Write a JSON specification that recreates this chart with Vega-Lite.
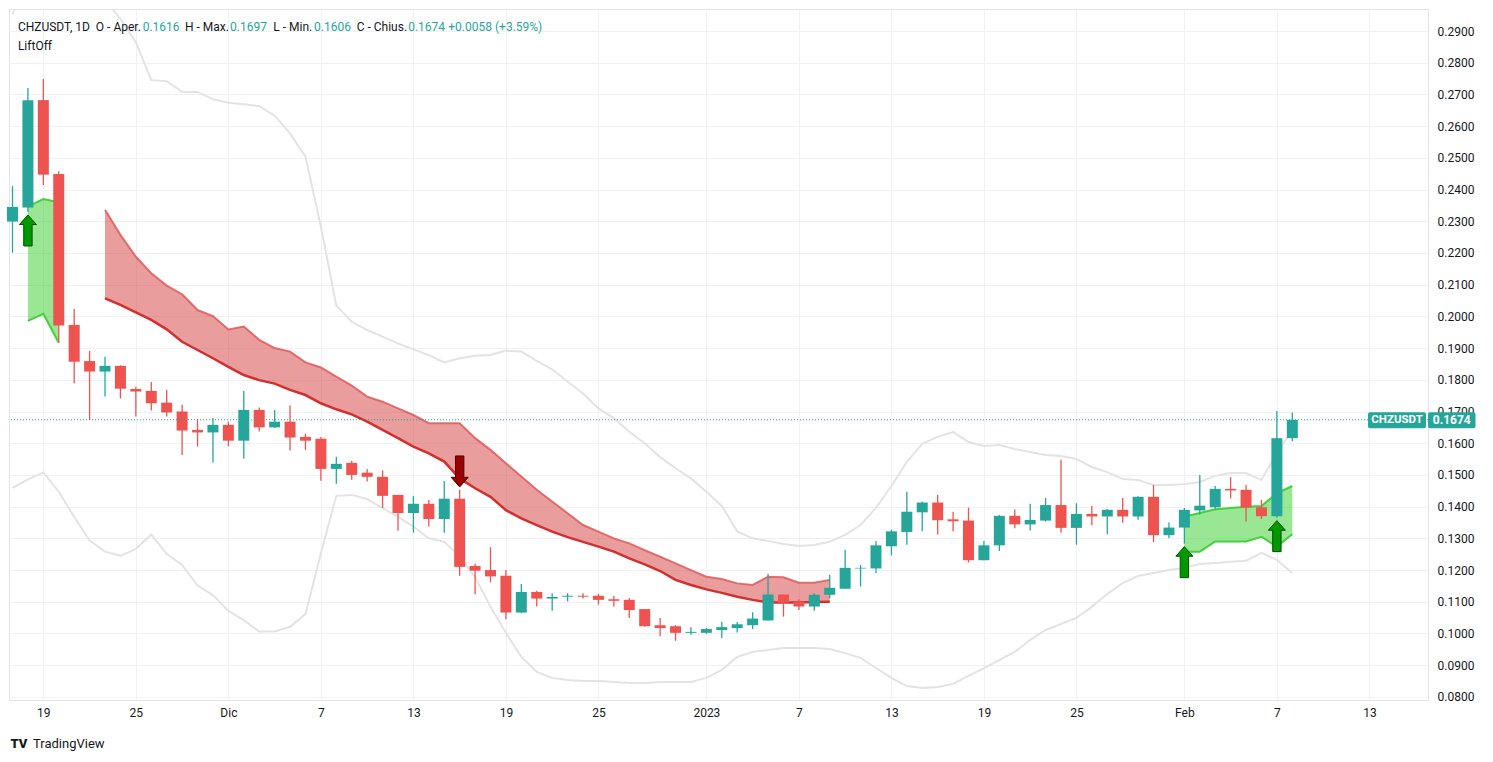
{
"$schema":"https://vega.github.io/schema/vega-lite/v6.json",
"width":1419,"height":691,
"autosize":{"type":"none"},
"padding":{"left":9,"top":9,"right":65,"bottom":62},
"background":"#ffffff",
"config":{"view":{"stroke":"#e0e3eb","strokeWidth":1},"font":"Roboto","text":{"font":"Roboto"}},
"datasets":{
"one":[{}],
"ohlc":[
{"d":"2022-11-17","o":0.2299,"h":0.2411,"l":0.2201,"c":0.2345,"bu":0.2954,"bl":0.1459},
{"d":"2022-11-18","o":0.2343,"h":0.2720,"l":0.2330,"c":0.2682,"bu":0.305,"bl":0.1486},
{"d":"2022-11-19","o":0.2682,"h":0.2749,"l":0.2414,"c":0.2447,"bu":0.315,"bl":0.1508},
{"d":"2022-11-20","o":0.2449,"h":0.2458,"l":0.1917,"c":0.1971,"bu":0.318,"bl":0.1447},
{"d":"2022-11-21","o":0.1973,"h":0.2023,"l":0.1789,"c":0.1857,"bu":0.316,"bl":0.1368},
{"d":"2022-11-22","o":0.1859,"h":0.1891,"l":0.1673,"c":0.1826,"bu":0.310,"bl":0.1293},
{"d":"2022-11-23","o":0.1826,"h":0.1873,"l":0.1747,"c":0.1844,"bu":0.2998,"bl":0.1258},
{"d":"2022-11-24","o":0.1844,"h":0.1846,"l":0.1741,"c":0.1772,"bu":0.2938,"bl":0.1245},
{"d":"2022-11-25","o":0.1771,"h":0.1778,"l":0.1684,"c":0.1763,"bu":0.2865,"bl":0.1267},
{"d":"2022-11-26","o":0.1765,"h":0.1793,"l":0.1703,"c":0.1726,"bu":0.2745,"bl":0.1312},
{"d":"2022-11-27","o":0.1728,"h":0.1768,"l":0.1684,"c":0.1697,"bu":0.2742,"bl":0.1251},
{"d":"2022-11-28","o":0.1700,"h":0.1721,"l":0.1563,"c":0.1640,"bu":0.2708,"bl":0.1216},
{"d":"2022-11-29","o":0.1642,"h":0.1677,"l":0.1590,"c":0.1634,"bu":0.2708,"bl":0.1151},
{"d":"2022-11-30","o":0.1634,"h":0.1679,"l":0.1539,"c":0.1658,"bu":0.2685,"bl":0.1121},
{"d":"2022-12-01","o":0.1658,"h":0.1668,"l":0.1590,"c":0.1608,"bu":0.2674,"bl":0.1071},
{"d":"2022-12-02","o":0.1608,"h":0.1765,"l":0.1551,"c":0.1705,"bu":0.2669,"bl":0.1042},
{"d":"2022-12-03","o":0.1705,"h":0.1713,"l":0.1637,"c":0.1650,"bu":0.2663,"bl":0.1006},
{"d":"2022-12-04","o":0.1650,"h":0.1705,"l":0.1648,"c":0.1668,"bu":0.2633,"bl":0.1006},
{"d":"2022-12-05","o":0.1668,"h":0.1719,"l":0.1577,"c":0.1618,"bu":0.2577,"bl":0.1021},
{"d":"2022-12-06","o":0.1620,"h":0.1630,"l":0.1579,"c":0.1608,"bu":0.2504,"bl":0.1061},
{"d":"2022-12-07","o":0.1614,"h":0.1620,"l":0.1482,"c":0.1519,"bu":0.2283,"bl":0.1253},
{"d":"2022-12-08","o":0.1519,"h":0.1557,"l":0.1472,"c":0.1535,"bu":0.2034,"bl":0.1434},
{"d":"2022-12-09","o":0.1538,"h":0.1545,"l":0.1485,"c":0.1500,"bu":0.1983,"bl":0.1437},
{"d":"2022-12-10","o":0.1507,"h":0.1519,"l":0.1479,"c":0.1494,"bu":0.1957,"bl":0.1424},
{"d":"2022-12-11","o":0.1494,"h":0.1514,"l":0.1396,"c":0.1434,"bu":0.1936,"bl":0.1395},
{"d":"2022-12-12","o":0.1437,"h":0.1437,"l":0.1324,"c":0.1380,"bu":0.1915,"bl":0.1368},
{"d":"2022-12-13","o":0.1380,"h":0.1434,"l":0.1318,"c":0.1409,"bu":0.1896,"bl":0.1337},
{"d":"2022-12-14","o":0.1409,"h":0.1421,"l":0.1337,"c":0.1361,"bu":0.1878,"bl":0.1300},
{"d":"2022-12-15","o":0.1361,"h":0.1481,"l":0.1318,"c":0.1425,"bu":0.1855,"bl":0.1289},
{"d":"2022-12-16","o":0.1425,"h":0.1453,"l":0.1182,"c":0.1210,"bu":0.1868,"bl":0.1244},
{"d":"2022-12-17","o":0.1213,"h":0.1220,"l":0.1124,"c":0.1198,"bu":0.1876,"bl":0.1178},
{"d":"2022-12-18","o":0.1200,"h":0.1272,"l":0.1161,"c":0.1180,"bu":0.1878,"bl":0.1084},
{"d":"2022-12-19","o":0.1182,"h":0.1200,"l":0.1045,"c":0.1066,"bu":0.1892,"bl":0.1002},
{"d":"2022-12-20","o":0.1066,"h":0.1156,"l":0.1064,"c":0.1131,"bu":0.1889,"bl":0.0926},
{"d":"2022-12-21","o":0.1131,"h":0.1135,"l":0.1085,"c":0.1110,"bu":0.1860,"bl":0.0879},
{"d":"2022-12-22","o":0.1110,"h":0.1127,"l":0.1072,"c":0.1115,"bu":0.1833,"bl":0.0860},
{"d":"2022-12-23","o":0.1116,"h":0.1127,"l":0.1101,"c":0.1119,"bu":0.1794,"bl":0.0853},
{"d":"2022-12-24","o":0.1119,"h":0.1127,"l":0.1110,"c":0.1116,"bu":0.1757,"bl":0.0850},
{"d":"2022-12-25","o":0.1119,"h":0.1125,"l":0.1091,"c":0.1106,"bu":0.1710,"bl":0.0850},
{"d":"2022-12-26","o":0.1108,"h":0.1118,"l":0.1085,"c":0.1103,"bu":0.1679,"bl":0.0847},
{"d":"2022-12-27","o":0.1106,"h":0.1112,"l":0.1049,"c":0.1074,"bu":0.1636,"bl":0.0844},
{"d":"2022-12-28","o":0.1077,"h":0.1077,"l":0.1021,"c":0.1023,"bu":0.1600,"bl":0.0844},
{"d":"2022-12-29","o":0.1026,"h":0.1049,"l":0.0991,"c":0.1017,"bu":0.1556,"bl":0.0847},
{"d":"2022-12-30","o":0.1023,"h":0.1026,"l":0.0977,"c":0.1002,"bu":0.1521,"bl":0.0847},
{"d":"2022-12-31","o":0.1002,"h":0.1020,"l":0.0996,"c":0.1005,"bu":0.1489,"bl":0.0847},
{"d":"2023-01-01","o":0.1002,"h":0.1017,"l":0.0999,"c":0.1014,"bu":0.1447,"bl":0.0860},
{"d":"2023-01-02","o":0.1011,"h":0.1037,"l":0.0986,"c":0.1020,"bu":0.1402,"bl":0.0885},
{"d":"2023-01-03","o":0.1017,"h":0.1036,"l":0.1003,"c":0.1029,"bu":0.1322,"bl":0.0926},
{"d":"2023-01-04","o":0.1026,"h":0.1067,"l":0.1014,"c":0.1047,"bu":0.1300,"bl":0.0942},
{"d":"2023-01-05","o":0.1041,"h":0.1188,"l":0.1041,"c":0.1123,"bu":0.1292,"bl":0.0948},
{"d":"2023-01-06","o":0.1123,"h":0.1123,"l":0.1053,"c":0.1097,"bu":0.1282,"bl":0.0954},
{"d":"2023-01-07","o":0.1100,"h":0.1108,"l":0.1074,"c":0.1085,"bu":0.1276,"bl":0.0954},
{"d":"2023-01-08","o":0.1085,"h":0.1127,"l":0.1072,"c":0.1122,"bu":0.1279,"bl":0.0954},
{"d":"2023-01-09","o":0.1122,"h":0.1185,"l":0.1110,"c":0.1144,"bu":0.1289,"bl":0.0951},
{"d":"2023-01-10","o":0.1141,"h":0.1264,"l":0.1141,"c":0.1207,"bu":0.1311,"bl":0.0938},
{"d":"2023-01-11","o":0.1205,"h":0.1216,"l":0.1148,"c":0.1207,"bu":0.1342,"bl":0.0923},
{"d":"2023-01-12","o":0.1205,"h":0.1292,"l":0.1191,"c":0.1278,"bu":0.1396,"bl":0.0891},
{"d":"2023-01-13","o":0.1275,"h":0.1327,"l":0.1246,"c":0.1322,"bu":0.1465,"bl":0.0860},
{"d":"2023-01-14","o":0.1320,"h":0.1447,"l":0.1280,"c":0.1384,"bu":0.1541,"bl":0.0834},
{"d":"2023-01-15","o":0.1382,"h":0.1416,"l":0.1322,"c":0.1413,"bu":0.1598,"bl":0.0828},
{"d":"2023-01-16","o":0.1413,"h":0.1437,"l":0.1312,"c":0.1357,"bu":0.1620,"bl":0.0831},
{"d":"2023-01-17","o":0.1360,"h":0.1384,"l":0.1322,"c":0.1354,"bu":0.1635,"bl":0.0841},
{"d":"2023-01-18","o":0.1356,"h":0.1397,"l":0.1224,"c":0.1231,"bu":0.1604,"bl":0.0866},
{"d":"2023-01-19","o":0.1231,"h":0.1292,"l":0.1231,"c":0.1278,"bu":0.1591,"bl":0.0891},
{"d":"2023-01-20","o":0.1278,"h":0.1374,"l":0.1260,"c":0.1371,"bu":0.1594,"bl":0.0916},
{"d":"2023-01-21","o":0.1371,"h":0.1391,"l":0.1332,"c":0.1344,"bu":0.1582,"bl":0.0942},
{"d":"2023-01-22","o":0.1344,"h":0.1409,"l":0.1325,"c":0.1358,"bu":0.1572,"bl":0.0980},
{"d":"2023-01-23","o":0.1356,"h":0.1427,"l":0.1353,"c":0.1405,"bu":0.1563,"bl":0.1011},
{"d":"2023-01-24","o":0.1405,"h":0.1548,"l":0.1318,"c":0.1333,"bu":0.1560,"bl":0.1030},
{"d":"2023-01-25","o":0.1333,"h":0.1411,"l":0.1280,"c":0.1377,"bu":0.1550,"bl":0.1049},
{"d":"2023-01-26","o":0.1377,"h":0.1402,"l":0.1341,"c":0.1369,"bu":0.1525,"bl":0.1084},
{"d":"2023-01-27","o":0.1369,"h":0.1392,"l":0.1313,"c":0.1390,"bu":0.1509,"bl":0.1125},
{"d":"2023-01-28","o":0.1390,"h":0.1427,"l":0.1349,"c":0.1369,"bu":0.1487,"bl":0.1159},
{"d":"2023-01-29","o":0.1369,"h":0.1433,"l":0.1359,"c":0.1431,"bu":0.1484,"bl":0.1181},
{"d":"2023-01-30","o":0.1431,"h":0.1468,"l":0.1288,"c":0.1310,"bu":0.1468,"bl":0.1191},
{"d":"2023-01-31","o":0.1310,"h":0.1350,"l":0.1300,"c":0.1334,"bu":0.1468,"bl":0.1200},
{"d":"2023-02-01","o":0.1334,"h":0.1396,"l":0.1283,"c":0.1390,"bu":0.1471,"bl":0.1207},
{"d":"2023-02-02","o":0.1388,"h":0.1500,"l":0.1375,"c":0.1403,"bu":0.1478,"bl":0.1219},
{"d":"2023-02-03","o":0.1398,"h":0.1465,"l":0.1392,"c":0.1456,"bu":0.1497,"bl":0.1222},
{"d":"2023-02-04","o":0.1456,"h":0.1493,"l":0.1426,"c":0.1451,"bu":0.1506,"bl":0.1226},
{"d":"2023-02-05","o":0.1453,"h":0.1468,"l":0.1353,"c":0.1397,"bu":0.1506,"bl":0.1229},
{"d":"2023-02-06","o":0.1398,"h":0.1421,"l":0.1361,"c":0.1370,"bu":0.1484,"bl":0.1254},
{"d":"2023-02-07","o":0.1370,"h":0.1702,"l":0.1365,"c":0.1616,"bu":0.1569,"bl":0.1232},
{"d":"2023-02-08","o":0.1616,"h":0.1697,"l":0.1606,"c":0.1674,"bu":0.1642,"bl":0.1191}
],
"red":[
{"d":"2022-11-23","top":0.2336,"bot":0.2057},
{"d":"2022-11-24","top":0.2257,"bot":0.2036},
{"d":"2022-11-25","top":0.2188,"bot":0.2013},
{"d":"2022-11-26","top":0.2136,"bot":0.1989},
{"d":"2022-11-27","top":0.2097,"bot":0.1959},
{"d":"2022-11-28","top":0.2070,"bot":0.1920},
{"d":"2022-11-29","top":0.2020,"bot":0.1894},
{"d":"2022-11-30","top":0.2001,"bot":0.1868},
{"d":"2022-12-01","top":0.1959,"bot":0.1841},
{"d":"2022-12-02","top":0.1968,"bot":0.1815},
{"d":"2022-12-03","top":0.1926,"bot":0.1799},
{"d":"2022-12-04","top":0.1900,"bot":0.1788},
{"d":"2022-12-05","top":0.1889,"bot":0.1768},
{"d":"2022-12-06","top":0.1855,"bot":0.1752},
{"d":"2022-12-07","top":0.1839,"bot":0.1726},
{"d":"2022-12-08","top":0.1810,"bot":0.1707},
{"d":"2022-12-09","top":0.1782,"bot":0.1691},
{"d":"2022-12-10","top":0.1747,"bot":0.1668},
{"d":"2022-12-11","top":0.1731,"bot":0.1642},
{"d":"2022-12-12","top":0.1710,"bot":0.1616},
{"d":"2022-12-13","top":0.1689,"bot":0.1589},
{"d":"2022-12-14","top":0.1663,"bot":0.1568},
{"d":"2022-12-15","top":0.1663,"bot":0.1542},
{"d":"2022-12-16","top":0.1663,"bot":0.1489},
{"d":"2022-12-17","top":0.1616,"bot":0.1458},
{"d":"2022-12-18","top":0.1579,"bot":0.1431},
{"d":"2022-12-19","top":0.1537,"bot":0.1389},
{"d":"2022-12-20","top":0.1495,"bot":0.1363},
{"d":"2022-12-21","top":0.1453,"bot":0.1342},
{"d":"2022-12-22","top":0.1416,"bot":0.1321},
{"d":"2022-12-23","top":0.1379,"bot":0.1304},
{"d":"2022-12-24","top":0.1342,"bot":0.1289},
{"d":"2022-12-25","top":0.1321,"bot":0.1274},
{"d":"2022-12-26","top":0.1300,"bot":0.1258},
{"d":"2022-12-27","top":0.1284,"bot":0.1237},
{"d":"2022-12-28","top":0.1263,"bot":0.1218},
{"d":"2022-12-29","top":0.1242,"bot":0.1197},
{"d":"2022-12-30","top":0.1221,"bot":0.1169},
{"d":"2022-12-31","top":0.1200,"bot":0.1153},
{"d":"2023-01-01","top":0.1179,"bot":0.1139},
{"d":"2023-01-02","top":0.1172,"bot":0.1128},
{"d":"2023-01-03","top":0.1158,"bot":0.1116},
{"d":"2023-01-04","top":0.1153,"bot":0.1106},
{"d":"2023-01-05","top":0.1179,"bot":0.1098},
{"d":"2023-01-06","top":0.1177,"bot":0.1098},
{"d":"2023-01-07","top":0.1160,"bot":0.1098},
{"d":"2023-01-08","top":0.1160,"bot":0.1099},
{"d":"2023-01-09","top":0.1169,"bot":0.1100}
],
"green":[
{"d":"2022-11-18","top":0.2346,"bot":0.1986,"run":1},
{"d":"2022-11-19","top":0.2370,"bot":0.2008,"run":1},
{"d":"2022-11-20","top":0.2360,"bot":0.1917,"run":1},
{"d":"2023-02-01","top":0.1368,"bot":0.1258,"run":2},
{"d":"2023-02-02","top":0.1380,"bot":0.1258,"run":2},
{"d":"2023-02-03","top":0.1392,"bot":0.1290,"run":2},
{"d":"2023-02-04","top":0.1396,"bot":0.1290,"run":2},
{"d":"2023-02-05","top":0.1400,"bot":0.1290,"run":2},
{"d":"2023-02-06","top":0.1402,"bot":0.1305,"run":2},
{"d":"2023-02-07","top":0.1442,"bot":0.1274,"run":2},
{"d":"2023-02-08","top":0.1465,"bot":0.1313,"run":2}
],
"sig":[
{"d":"2022-11-18","p":0.2271,"dir":"up"},
{"d":"2022-12-16","p":0.1511,"dir":"down"},
{"d":"2023-02-01","p":0.1225,"dir":"up"},
{"d":"2023-02-07","p":0.1307,"dir":"up"}
]
},
"layer":[
{"data":{"name":"ohlc"},"mark":{"type":"line","clip":true,"color":"#e3e3e3","strokeWidth":2},
 "encoding":{
  "x":{"field":"d","type":"temporal","title":null,
   "scale":{"type":"utc","padding":0,"domain":[{"year":2022,"month":11,"date":16,"hours":18,"minutes":33,"utc":true},{"year":2023,"month":2,"date":16,"hours":19,"minutes":12,"utc":true}]},
   "axis":{"values":[
    {"year":2022,"month":11,"date":19,"utc":true},{"year":2022,"month":11,"date":25,"utc":true},
    {"year":2022,"month":12,"date":1,"utc":true},{"year":2022,"month":12,"date":7,"utc":true},
    {"year":2022,"month":12,"date":13,"utc":true},{"year":2022,"month":12,"date":19,"utc":true},
    {"year":2022,"month":12,"date":25,"utc":true},{"year":2023,"month":1,"date":1,"utc":true},
    {"year":2023,"month":1,"date":7,"utc":true},{"year":2023,"month":1,"date":13,"utc":true},
    {"year":2023,"month":1,"date":19,"utc":true},{"year":2023,"month":1,"date":25,"utc":true},
    {"year":2023,"month":2,"date":1,"utc":true},{"year":2023,"month":2,"date":7,"utc":true},
    {"year":2023,"month":2,"date":13,"utc":true}],
    "tickCount":40,
    "labelExpr":"utcdate(datum.value) == 1 ? (utcmonth(datum.value) == 0 ? utcFormat(datum.value, '%Y') : (utcmonth(datum.value) == 11 ? 'Dic' : 'Feb')) : utcFormat(datum.value, '%-d')",
    "grid":true,"gridColor":"#f0f1f4","gridWidth":1,"ticks":false,"domainColor":"#e0e3eb",
    "labelColor":"#131722","labelFontSize":12,"labelPadding":7,"labelFlush":false,"labelOverlap":false,"labelFont":"Roboto"}},
  "y":{"field":"bu","type":"quantitative","title":null,
   "scale":{"domain":[0.07902,0.29694],"zero":false,"nice":false,"padding":0},
   "axis":{"orient":"right","values":[0.08,0.09,0.10,0.11,0.12,0.13,0.14,0.15,0.16,0.17,0.18,0.19,0.20,0.21,0.22,0.23,0.24,0.25,0.26,0.27,0.28,0.29],
    "tickCount":40,
    "format":".4f","grid":true,"gridColor":"#f0f1f4","gridWidth":1,"ticks":false,"domainColor":"#e0e3eb",
    "labelColor":"#131722","labelFontSize":12,"labelPadding":9,"labelFlush":false,"labelOverlap":false,"labelFont":"Roboto"}}}},
{"data":{"name":"ohlc"},"mark":{"type":"line","clip":true,"color":"#e3e3e3","strokeWidth":2},
 "encoding":{"x":{"field":"d","type":"temporal","title":null},"y":{"field":"bl","type":"quantitative","title":null}}},
{"data":{"name":"red"},"mark":{"type":"area","color":"#d23232","opacity":0.48},
 "encoding":{"x":{"field":"d","type":"temporal","title":null},"y":{"field":"top","type":"quantitative","title":null},"y2":{"field":"bot"}}},
{"data":{"name":"red"},"mark":{"type":"line","color":"#dc5a5a","opacity":0.85,"strokeWidth":2},
 "encoding":{"x":{"field":"d","type":"temporal","title":null},"y":{"field":"top","type":"quantitative","title":null}}},
{"data":{"name":"red"},"mark":{"type":"line","color":"#d32f2f","strokeWidth":2.5},
 "encoding":{"x":{"field":"d","type":"temporal","title":null},"y":{"field":"bot","type":"quantitative","title":null}}},
{"data":{"name":"green"},"mark":{"type":"area","color":"#3ccf32","opacity":0.52},
 "encoding":{"x":{"field":"d","type":"temporal","title":null},"y":{"field":"top","type":"quantitative","title":null},"y2":{"field":"bot"},"detail":{"field":"run"}}},
{"data":{"name":"green"},"mark":{"type":"line","color":"#44d23a","strokeWidth":2},
 "encoding":{"x":{"field":"d","type":"temporal","title":null},"y":{"field":"top","type":"quantitative","title":null},"detail":{"field":"run"}}},
{"data":{"name":"green"},"mark":{"type":"line","color":"#44d23a","strokeWidth":2},
 "encoding":{"x":{"field":"d","type":"temporal","title":null},"y":{"field":"bot","type":"quantitative","title":null},"detail":{"field":"run"}}},
{"data":{"name":"ohlc"},"mark":{"type":"rule","strokeWidth":1.3},
 "encoding":{"x":{"field":"d","type":"temporal","title":null},"y":{"field":"l","type":"quantitative","title":null},"y2":{"field":"h"},
  "color":{"condition":{"test":"datum.c >= datum.o","value":"#26a69a"},"value":"#ef5350"}}},
{"data":{"name":"ohlc"},"mark":{"type":"bar","width":11},
 "encoding":{"x":{"field":"d","type":"temporal","title":null},"y":{"field":"o","type":"quantitative","title":null},"y2":{"field":"c"},
  "color":{"condition":{"test":"datum.c >= datum.o","value":"#26a69a"},"value":"#ef5350"}}},
{"data":{"name":"one"},"mark":{"type":"rule","color":"#26a69a","strokeWidth":1,"strokeDash":[1,2]},
 "encoding":{"y":{"datum":0.1674}}},
{"data":{"name":"sig"},"mark":{"type":"point","filled":true,"size":961,"opacity":1,"strokeWidth":1},
 "encoding":{"x":{"field":"d","type":"temporal","title":null},"y":{"field":"p","type":"quantitative","title":null},
  "shape":{"field":"dir","type":"nominal","scale":{"domain":["up","down"],"range":["M0,-1L0.55,-0.38L0.27,-0.38L0.27,1L-0.27,1L-0.27,-0.38L-0.55,-0.38Z","M0,1L0.55,0.38L0.27,0.38L0.27,-1L-0.27,-1L-0.27,0.38L-0.55,0.38Z"]},"legend":null},
  "fill":{"field":"dir","type":"nominal","scale":{"domain":["up","down"],"range":["#009a00","#9a0000"]},"legend":null},
  "stroke":{"field":"dir","type":"nominal","scale":{"domain":["up","down"],"range":["#004d00","#4d0000"]},"legend":null}}},
{"data":{"name":"one"},"mark":{"type":"rect","color":"#26a69a","cornerRadius":2},
 "encoding":{"x":{"datum":{"year":2023,"month":2,"date":12,"hours":21,"minutes":50,"utc":true},"type":"temporal"},
  "x2":{"datum":{"year":2023,"month":2,"date":16,"hours":16,"minutes":5,"utc":true}},
  "y":{"datum":0.16975},"y2":{"datum":0.16471}}},
{"data":{"name":"one"},"mark":{"type":"rect","color":"#26a69a","cornerRadius":2},
 "encoding":{"x":{"datum":{"year":2023,"month":2,"date":16,"hours":19,"minutes":12,"utc":true},"type":"temporal"},
  "x2":{"datum":{"year":2023,"month":2,"date":19,"hours":21,"minutes":7,"utc":true}},
  "y":{"datum":0.16975},"y2":{"datum":0.16471}}},
{"data":{"name":"one"},"mark":{"type":"text","text":"CHZUSDT","color":"#ffffff","fontSize":11.5,"fontWeight":"bold","align":"center","baseline":"middle"},
 "encoding":{"x":{"datum":{"year":2023,"month":2,"date":14,"hours":18,"minutes":58,"utc":true},"type":"temporal"},"y":{"datum":0.1672}}},
{"data":{"name":"one"},"mark":{"type":"text","text":"0.1674","color":"#ffffff","fontSize":12,"fontWeight":"bold","align":"center","baseline":"middle"},
 "encoding":{"x":{"datum":{"year":2023,"month":2,"date":18,"hours":8,"minutes":10,"utc":true},"type":"temporal"},"y":{"datum":0.1672}}},
{"data":{"name":"one"},"mark":{"type":"text","text":"CHZUSDT, 1D\u00a0\u00a0O - Aper.","color":"#131722","fontSize":12,"align":"left","baseline":"middle"},
 "encoding":{"x":{"datum":{"year":2022,"month":11,"date":17,"hours":8,"minutes":24,"utc":true},"type":"temporal"},"y":{"datum":0.29132}}},
{"data":{"name":"one"},"mark":{"type":"text","text":"0.1616","color":"#26a69a","fontSize":12,"align":"left","baseline":"middle"},
 "encoding":{"x":{"datum":{"year":2022,"month":11,"date":25,"hours":10,"minutes":39,"utc":true},"type":"temporal"},"y":{"datum":0.29132}}},
{"data":{"name":"one"},"mark":{"type":"text","text":"H - Max.","color":"#131722","fontSize":12,"align":"left","baseline":"middle"},
 "encoding":{"x":{"datum":{"year":2022,"month":11,"date":28,"hours":4,"minutes":29,"utc":true},"type":"temporal"},"y":{"datum":0.29132}}},
{"data":{"name":"one"},"mark":{"type":"text","text":"0.1697","color":"#26a69a","fontSize":12,"align":"left","baseline":"middle"},
 "encoding":{"x":{"datum":{"year":2022,"month":12,"date":1,"hours":2,"minutes":31,"utc":true},"type":"temporal"},"y":{"datum":0.29132}}},
{"data":{"name":"one"},"mark":{"type":"text","text":"L - Min.","color":"#131722","fontSize":12,"align":"left","baseline":"middle"},
 "encoding":{"x":{"datum":{"year":2022,"month":12,"date":3,"hours":21,"minutes":55,"utc":true},"type":"temporal"},"y":{"datum":0.29132}}},
{"data":{"name":"one"},"mark":{"type":"text","text":"0.1606","color":"#26a69a","fontSize":12,"align":"left","baseline":"middle"},
 "encoding":{"x":{"datum":{"year":2022,"month":12,"date":6,"hours":13,"minutes":16,"utc":true},"type":"temporal"},"y":{"datum":0.29132}}},
{"data":{"name":"one"},"mark":{"type":"text","text":"C - Chius.","color":"#131722","fontSize":12,"align":"left","baseline":"middle"},
 "encoding":{"x":{"datum":{"year":2022,"month":12,"date":9,"hours":7,"minutes":44,"utc":true},"type":"temporal"},"y":{"datum":0.29132}}},
{"data":{"name":"one"},"mark":{"type":"text","text":"0.1674","color":"#26a69a","fontSize":12,"align":"left","baseline":"middle"},
 "encoding":{"x":{"datum":{"year":2022,"month":12,"date":12,"hours":15,"minutes":52,"utc":true},"type":"temporal"},"y":{"datum":0.29132}}},
{"data":{"name":"one"},"mark":{"type":"text","text":"+0.0058 (+3.59%)","color":"#26a69a","fontSize":12,"align":"left","baseline":"middle"},
 "encoding":{"x":{"datum":{"year":2022,"month":12,"date":15,"hours":6,"minutes":20,"utc":true},"type":"temporal"},"y":{"datum":0.29132}}},
{"data":{"name":"one"},"mark":{"type":"text","text":"LiftOff","color":"#131722","fontSize":12,"align":"left","baseline":"middle"},
 "encoding":{"x":{"datum":{"year":2022,"month":11,"date":17,"hours":8,"minutes":24,"utc":true},"type":"temporal"},"y":{"datum":0.28536}}},
{"data":{"name":"one"},"mark":{"type":"text","text":"TV","color":"#131722","fontSize":13,"fontWeight":900,"align":"center","baseline":"middle"},
 "encoding":{"x":{"datum":{"year":2022,"month":11,"date":17,"hours":10,"minutes":5,"utc":true},"type":"temporal"},"y":{"datum":0.06515}}},
{"data":{"name":"one"},"mark":{"type":"text","text":"TradingView","color":"#131722","fontSize":13,"align":"left","baseline":"middle"},
 "encoding":{"x":{"datum":{"year":2022,"month":11,"date":18,"hours":7,"minutes":54,"utc":true},"type":"temporal"},"y":{"datum":0.06515}}}
]
}
